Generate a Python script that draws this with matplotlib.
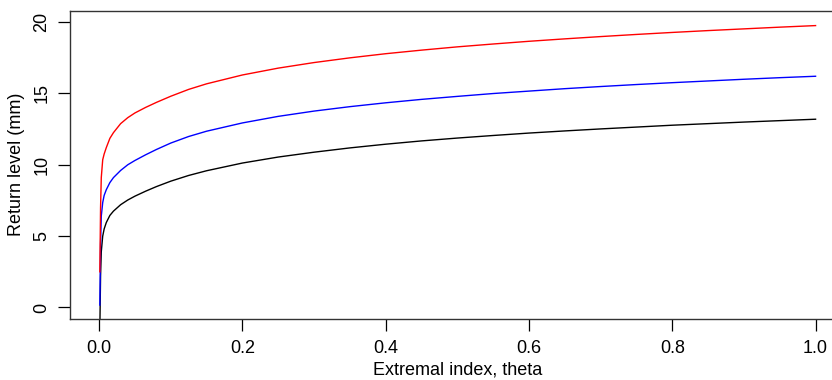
import matplotlib
matplotlib.use("Agg")
import matplotlib.pyplot as plt

# Extremal index values and return levels (mm) for three return periods
theta = [0.001, 0.002, 0.003, 0.005, 0.007, 0.01, 0.015, 0.02, 0.03, 0.04,
         0.05, 0.065, 0.08, 0.1, 0.125, 0.15, 0.2, 0.25, 0.3, 0.35,
         0.4, 0.45, 0.5, 0.55, 0.6, 0.65, 0.7, 0.75, 0.8, 0.85,
         0.9, 0.95, 1.0]
level_low = [-1.5, 2.2, 3.9, 5.0, 5.5, 5.95, 6.45, 6.75, 7.2, 7.53,
             7.8, 8.15, 8.47, 8.85, 9.25, 9.58, 10.12, 10.54, 10.88, 11.18,
             11.44, 11.67, 11.87, 12.05, 12.22, 12.37, 12.51, 12.64, 12.77, 12.88,
             12.99, 13.09, 13.19]
level_mid = [0.17, 4.5, 6.4, 7.35, 7.85, 8.25, 8.75, 9.1, 9.6, 10.0,
             10.3, 10.7, 11.07, 11.52, 11.98, 12.35, 12.93, 13.39, 13.76, 14.07,
             14.34, 14.58, 14.79, 14.99, 15.16, 15.33, 15.48, 15.62, 15.75, 15.87,
             15.99, 16.1, 16.2]
level_high = [2.5, 7.0, 9.1, 10.35, 10.75, 11.2, 11.85, 12.25, 12.88, 13.3,
              13.63, 14.02, 14.37, 14.8, 15.28, 15.67, 16.29, 16.77, 17.16, 17.49,
              17.78, 18.03, 18.26, 18.46, 18.65, 18.82, 18.98, 19.13, 19.27, 19.4,
              19.52, 19.64, 19.75]

x_ticks = [0.0, 0.2, 0.4, 0.6, 0.8, 1.0]
x_tick_labels = ["0.0", "0.2", "0.4", "0.6", "0.8", "1.0"]
y_ticks = [0, 5, 10, 15, 20]
y_tick_labels = ["0", "5", "10", "15", "20"]

plt.rcParams["font.family"] = ["Liberation Sans", "DejaVu Sans"]

fig = plt.figure(figsize=(8.32, 3.8), dpi=100)
ax = fig.add_axes([0.0847, 0.1608, 0.930, 0.8113])

ax.plot(theta, level_low, color="black", lw=1.0)
ax.plot(theta, level_mid, color="blue", lw=1.0)
ax.plot(theta, level_high, color="red", lw=1.0)

ax.set_xlim(-0.04, 1.04)
ax.set_ylim(-0.8, 20.8)

ax.set_xticks(x_ticks)
ax.set_xticklabels(x_tick_labels)
ax.set_yticks(y_ticks)
ax.set_yticklabels(y_tick_labels, rotation=90, va="center")

ax.tick_params(axis="both", direction="out", length=8.5, width=0.9,
               labelsize=13, color="black")
ax.tick_params(axis="x", pad=7)
ax.tick_params(axis="y", pad=6)

for s in ax.spines.values():
    s.set_linewidth(1.0)
    s.set_color("#333333")

ax.set_xlabel("Extremal index, theta", fontsize=13, labelpad=3)
ax.set_ylabel("Return level (mm)", fontsize=13, labelpad=6)

fig.savefig("out.png", dpi=100)
